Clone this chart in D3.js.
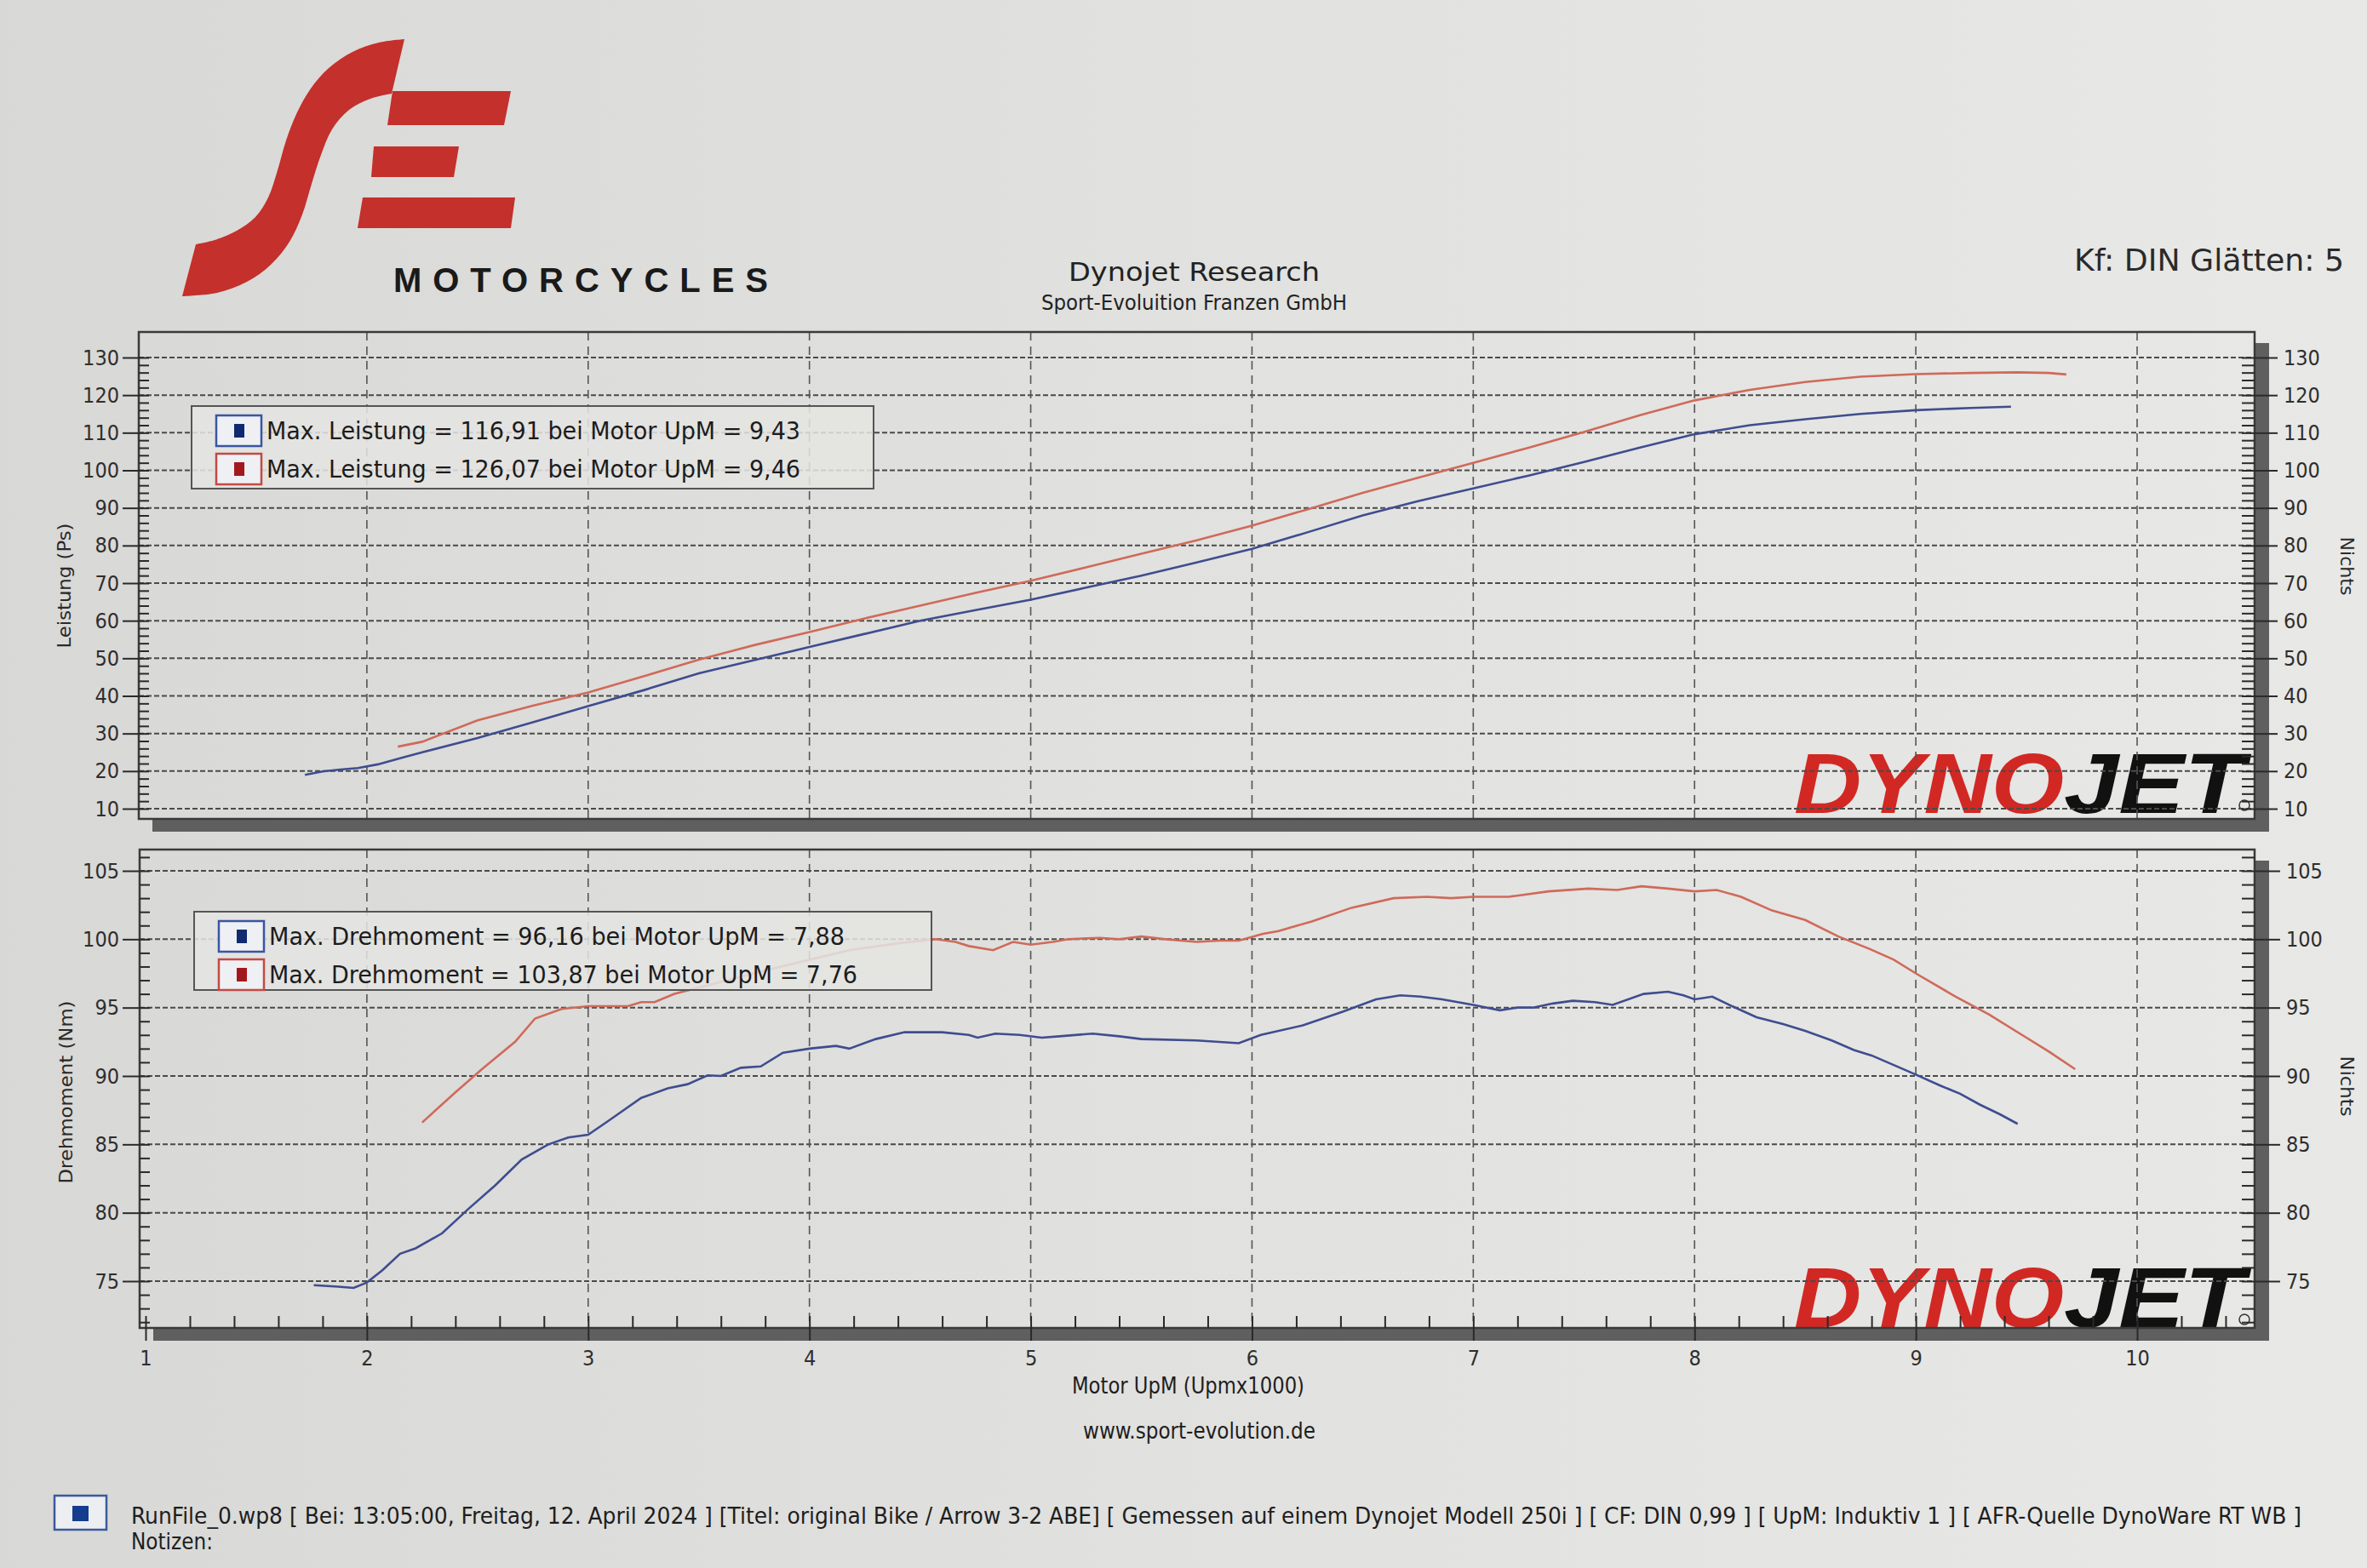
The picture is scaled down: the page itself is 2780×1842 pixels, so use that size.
<!DOCTYPE html>
<html>
<head>
<meta charset="utf-8">
<script src="https://cdn.jsdelivr.net/npm/d3@7"></script>
<style>
  html, body { margin: 0; padding: 0; background: #e0e0de; }
  svg { display: block; }
</style>
</head>
<body>
<svg id="chart" width="2780" height="1842"></svg>
<script>
// ---------------- DATA ----------------
const rpmTicks = [1, 2, 3, 4, 5, 6, 7, 8, 9, 10];
const powerTicks = [10, 20, 30, 40, 50, 60, 70, 80, 90, 100, 110, 120, 130];
const torqueTicks = [75, 80, 85, 90, 95, 100, 105];

// Leistung (Ps) vs Motor UpM (x1000)
const powerBlue = [[1.72,19.0],[1.80,19.9],[1.88,20.4],[1.96,20.8],[2.05,21.8],[2.15,23.4],[2.25,25.0],[2.5,28.8],[2.75,33.0],[3.0,37.3],[3.25,41.5],[3.5,46.0],[3.75,49.5],[4.0,53.0],[4.25,56.5],[4.5,60.0],[4.75,62.8],[5.0,65.6],[5.25,68.8],[5.5,72.0],[5.75,75.5],[6.0,79.1],[6.25,83.5],[6.5,88.0],[6.75,91.8],[7.0,95.2],[7.25,98.6],[7.5,102.2],[7.75,106.0],[8.0,109.6],[8.25,112.0],[8.5,113.6],[8.75,115.0],[9.0,116.0],[9.25,116.6],[9.43,116.91]];
const powerRed = [[2.14,26.5],[2.25,27.8],[2.5,33.5],[2.75,37.4],[3.0,40.9],[3.25,45.2],[3.5,49.6],[3.75,53.5],[4.0,57.0],[4.25,60.6],[4.5,64.0],[4.75,67.4],[5.0,70.6],[5.25,74.2],[5.5,77.8],[5.75,81.4],[6.0,85.3],[6.25,89.6],[6.5,94.0],[6.75,98.0],[7.0,102.0],[7.25,106.0],[7.5,110.2],[7.75,114.6],[8.0,118.6],[8.25,121.4],[8.5,123.5],[8.75,124.9],[9.0,125.6],[9.25,125.9],[9.46,126.07],[9.6,125.9],[9.68,125.5]];

// Drehmoment (Nm) vs Motor UpM (x1000)
const torqueBlue = [[1.76,74.7],[1.87,74.6],[1.94,74.5],[2.0,74.9],[2.07,75.8],[2.15,77.0],[2.22,77.4],[2.34,78.5],[2.46,80.3],[2.58,82.0],[2.7,83.9],[2.82,85.0],[2.91,85.5],[3.0,85.7],[3.09,86.7],[3.24,88.4],[3.36,89.1],[3.45,89.4],[3.54,90.05],[3.6,90.0],[3.69,90.6],[3.78,90.7],[3.88,91.7],[4.0,92.0],[4.12,92.2],[4.18,92.0],[4.3,92.7],[4.43,93.2],[4.6,93.2],[4.72,93.0],[4.76,92.8],[4.84,93.1],[4.95,93.0],[5.05,92.8],[5.13,92.9],[5.28,93.1],[5.4,92.9],[5.5,92.7],[5.75,92.6],[5.94,92.4],[6.04,93.0],[6.23,93.7],[6.41,94.7],[6.56,95.6],[6.67,95.9],[6.76,95.8],[6.86,95.6],[7.0,95.2],[7.12,94.8],[7.2,95.0],[7.27,95.0],[7.36,95.3],[7.45,95.5],[7.55,95.4],[7.63,95.2],[7.77,96.0],[7.88,96.16],[7.95,95.9],[8.0,95.6],[8.08,95.8],[8.17,95.1],[8.28,94.3],[8.4,93.8],[8.5,93.3],[8.62,92.6],[8.72,91.9],[8.8,91.5],[8.9,90.8],[9.0,90.1],[9.11,89.3],[9.2,88.7],[9.29,87.9],[9.38,87.2],[9.46,86.5]];
const torqueRed = [[2.25,86.6],[2.4,88.8],[2.52,90.5],[2.67,92.5],[2.76,94.2],[2.88,94.9],[3.0,95.1],[3.18,95.1],[3.24,95.4],[3.3,95.4],[3.39,96.0],[3.51,96.5],[3.7,97.3],[3.9,98.1],[4.18,99.2],[4.4,99.7],[4.57,100.0],[4.66,99.8],[4.72,99.5],[4.83,99.2],[4.92,99.8],[5.0,99.6],[5.1,99.8],[5.17,100.0],[5.31,100.1],[5.4,100.0],[5.5,100.2],[5.61,100.0],[5.75,99.8],[5.85,99.9],[5.94,99.9],[6.05,100.4],[6.12,100.6],[6.27,101.3],[6.45,102.3],[6.64,103.0],[6.79,103.1],[6.9,103.0],[7.0,103.1],[7.16,103.1],[7.34,103.5],[7.52,103.7],[7.65,103.6],[7.76,103.87],[7.88,103.7],[8.0,103.5],[8.1,103.6],[8.21,103.1],[8.35,102.1],[8.5,101.4],[8.65,100.2],[8.79,99.3],[8.9,98.5],[9.0,97.5],[9.18,95.8],[9.33,94.5],[9.5,92.8],[9.6,91.8],[9.72,90.5]];

const legendPower = ["Max. Leistung = 116,91 bei Motor UpM = 9,43", "Max. Leistung = 126,07 bei Motor UpM = 9,46"];
const legendTorque = ["Max. Drehmoment = 96,16 bei Motor UpM = 7,88", "Max. Drehmoment = 103,87 bei Motor UpM = 7,76"];
const seriesColors = ["#3f4d8f", "#cf6a5a"];
const swatchStroke = ["#3b56a0", "#c24a44"];
const swatchInner = ["#0f2a6e", "#a3191b"];

// ---------------- LAYOUT ----------------
const FONT = "'DejaVu Sans Condensed','DejaVu Sans',sans-serif";
const svg = d3.select("#chart");
const defs = svg.append("defs");
const grad = defs.append("linearGradient").attr("id", "paper").attr("x1", 0).attr("x2", 1).attr("y1", 0).attr("y2", 0);
grad.append("stop").attr("offset", 0).attr("stop-color", "#d8d8d6");
grad.append("stop").attr("offset", 0.5).attr("stop-color", "#e1e1df");
grad.append("stop").attr("offset", 1).attr("stop-color", "#e8e8e6");
svg.append("rect").attr("width", 2780).attr("height", 1842).attr("fill", "url(#paper)");

const x = d3.scaleLinear().domain([1, 10]).range([171, 2510]);
const yP = d3.scaleLinear().domain([10, 130]).range([950, 420]);
const yT = d3.scaleLinear().domain([75, 105]).range([1505, 1023]);

const P = { l: 163, r: 2648, t: 390, b: 962 };
const T = { l: 164, r: 2648, t: 998, b: 1560 };

// ---------------- LOGO ----------------
const logo = svg.append("g").attr("fill", "#c4302b");
const sTop = [[475,46],[445,50],[414,61],[386,80],[365,104],[349,132],[336,165],[326,200],[315,232],[300,255],[278,271],[252,282],[230,287]];
const sBottom = [[214,348],[255,344],[290,331],[318,311],[340,284],[355,252],[366,216],[377,182],[390,152],[410,129],[435,116],[460,110]];
const smooth = d3.line().curve(d3.curveCatmullRom.alpha(0.5));
logo.append("path").attr("d", smooth(sTop) + "L" + smooth(sBottom).slice(1) + "L467,80Z");
logo.append("path").attr("d", "M461,107 L600,107 L592,147 L455,147 Z");
logo.append("path").attr("d", "M439,172 L539,172 L533,208 L436,208 Z");
logo.append("path").attr("d", "M426,232 L605,232 L600,268 L420,268 Z");
svg.append("text").attr("x", 462).attr("y", 343).attr("font-family", "'Liberation Sans',Arial,sans-serif")
  .attr("font-weight", "bold").attr("font-size", 40).attr("fill", "#1a1a1a")
  .attr("textLength", 440).attr("lengthAdjust", "spacing").text("MOTORCYCLES");

// ---------------- HEADER TEXT ----------------
svg.append("text").attr("x", 1255).attr("y", 330).attr("font-family", FONT).attr("font-size", 31)
  .attr("fill", "#222").attr("textLength", 295).attr("lengthAdjust", "spacingAndGlyphs").text("Dynojet Research");
svg.append("text").attr("x", 1223).attr("y", 364).attr("font-family", FONT).attr("font-size", 24)
  .attr("fill", "#222").attr("textLength", 359).attr("lengthAdjust", "spacingAndGlyphs").text("Sport-Evoluition Franzen GmbH");
svg.append("text").attr("x", 2436).attr("y", 318).attr("font-family", FONT).attr("font-size", 35)
  .attr("fill", "#2a2a2a").attr("textLength", 317).attr("lengthAdjust", "spacingAndGlyphs").text("Kf: DIN Glätten: 5");

// ---------------- PANEL DRAWING ----------------
function shadow(F) {
  svg.append("rect").attr("x", F.l + 16).attr("y", F.b).attr("width", F.r - F.l).attr("height", 15).attr("fill", "#5f5f5f");
  svg.append("rect").attr("x", F.r).attr("y", F.t + 13).attr("width", 17).attr("height", F.b - F.t + 2).attr("fill", "#5f5f5f");
}
function dynojet(F, base) {
  const g = svg.append("g").attr("font-family", "'Liberation Sans',Arial,sans-serif").attr("font-weight", "bold")
    .attr("font-style", "italic").attr("font-size", 100);
  g.append("text").attr("x", 2107).attr("y", base).attr("fill", "#d12824")
    .attr("textLength", 317).attr("lengthAdjust", "spacingAndGlyphs").text("DYNO");
  g.append("text").attr("x", 2424).attr("y", base).attr("fill", "#111")
    .attr("textLength", 212).attr("lengthAdjust", "spacingAndGlyphs").text("JET");
  svg.append("circle").attr("cx", F.r - 12).attr("cy", base - 9).attr("r", 6).attr("fill", "none").attr("stroke", "#333").attr("stroke-width", 1.5);
}
function gridH(F, y, vals) {
  svg.append("g").selectAll("line").data(vals).join("line")
    .attr("x1", F.l).attr("x2", F.r).attr("y1", d => y(d)).attr("y2", d => y(d))
    .attr("stroke", "#4a4a4a").attr("stroke-width", 2).attr("stroke-dasharray", "6,3");
}
function gridV(F) {
  svg.append("g").selectAll("line").data(rpmTicks.filter(d => d > 1)).join("line")
    .attr("x1", d => x(d)).attr("x2", d => x(d)).attr("y1", F.t).attr("y2", F.b)
    .attr("stroke", "#555").attr("stroke-width", 1.6).attr("stroke-dasharray", "10,7");
}
function frame(F) {
  svg.append("rect").attr("x", F.l).attr("y", F.t).attr("width", F.r - F.l).attr("height", F.b - F.t)
    .attr("fill", "none").attr("stroke", "#3a3a3a").attr("stroke-width", 2.5);
}
function styleAxis(g, size) {
  g.select(".domain").remove();
  g.selectAll("line").attr("stroke", "#2a2a2a").attr("stroke-width", 2);
  g.selectAll("text").attr("font-family", FONT).attr("font-size", size).attr("fill", "#2e2e2e");
}
function yAxes(F, y, majors, minors, outL, outR) {
  const gl = svg.append("g").attr("transform", `translate(${F.l},0)`)
    .call(d3.axisLeft(y).tickValues(majors).tickSize(outL).tickPadding(4));
  styleAxis(gl, 25);
  const gli = svg.append("g").attr("transform", `translate(${F.l},0)`)
    .call(d3.axisLeft(y).tickValues(minors).tickSize(-12).tickFormat(""));
  styleAxis(gli, 25);
  const gr = svg.append("g").attr("transform", `translate(${F.r},0)`)
    .call(d3.axisRight(y).tickValues(majors).tickSize(outR).tickPadding(7));
  styleAxis(gr, 25);
  const gri = svg.append("g").attr("transform", `translate(${F.r},0)`)
    .call(d3.axisRight(y).tickValues(minors).tickSize(-15).tickFormat(""));
  styleAxis(gri, 25);
}
function legend(box, lines) {
  const g = svg.append("g");
  g.append("rect").attr("x", box.x).attr("y", box.y).attr("width", box.w).attr("height", box.h)
    .attr("fill", "#e4e4e2").attr("fill-opacity", 0.86).attr("stroke", "#555").attr("stroke-width", 2);
  lines.forEach((t, i) => {
    const sy = box.y + 11 + i * box.step;
    g.append("rect").attr("x", box.x + 29).attr("y", sy).attr("width", 53).attr("height", 36)
      .attr("fill", "#eef0f4").attr("stroke", swatchStroke[i]).attr("stroke-width", 2.5);
    g.append("rect").attr("x", box.x + 50).attr("y", sy + 10).attr("width", 12).attr("height", 16)
      .attr("fill", swatchInner[i]);
    g.append("text").attr("x", box.x + 88).attr("y", sy + 28).attr("font-family", FONT).attr("font-size", 29)
      .attr("fill", "#1c1c1c").attr("textLength", box.tl[i]).attr("lengthAdjust", "spacingAndGlyphs").text(t);
  });
}

// ---- Top panel (Leistung)
shadow(P);
dynojet(P, 955);
gridH(P, yP, powerTicks);
gridV(P);
frame(P);
yAxes(P, yP, powerTicks, d3.range(10, 131, 2), 19, 27);

const lineP = d3.line().x(d => x(d[0])).y(d => yP(d[1]));
svg.append("path").datum(powerBlue).attr("d", lineP).attr("fill", "none").attr("stroke", seriesColors[0]).attr("stroke-width", 2.6);
svg.append("path").datum(powerRed).attr("d", lineP).attr("fill", "none").attr("stroke", seriesColors[1]).attr("stroke-width", 2.6);
legend({ x: 225, y: 477, w: 801, h: 97, step: 45, tl: [627, 627] }, legendPower);

// ---- Bottom panel (Drehmoment)
shadow(T);
dynojet(T, 1559);
gridH(T, yT, torqueTicks);
gridV(T);
frame(T);
yAxes(T, yT, torqueTicks, d3.range(72, 107, 1), 20, 30);

// x axis at bottom
const gx = svg.append("g").attr("transform", `translate(0,${T.b})`)
  .call(d3.axisBottom(x).tickValues(rpmTicks).tickSize(15).tickPadding(11));
styleAxis(gx, 25);
const gxi = svg.append("g").attr("transform", `translate(0,${T.b})`)
  .call(d3.axisBottom(x).tickValues(d3.range(1, 10.45, 0.2)).tickSize(-14).tickFormat(""));
styleAxis(gxi, 25);

const lineT = d3.line().x(d => x(d[0])).y(d => yT(d[1]));
svg.append("path").datum(torqueBlue).attr("d", lineT).attr("fill", "none").attr("stroke", seriesColors[0]).attr("stroke-width", 2.6);
svg.append("path").datum(torqueRed).attr("d", lineT).attr("fill", "none").attr("stroke", seriesColors[1]).attr("stroke-width", 2.6);
legend({ x: 228, y: 1071, w: 866, h: 92, step: 45, tl: [676, 691] }, legendTorque);

// ---------------- AXIS TITLES ----------------
function vtext(cx, cy, rot, t, len) {
  svg.append("text").attr("transform", `translate(${cx},${cy}) rotate(${rot})`).attr("text-anchor", "middle")
    .attr("dy", "0.35em").attr("font-family", "'DejaVu Sans',sans-serif").attr("font-size", 21).attr("fill", "#2a2a2a")
    .attr("textLength", len).attr("lengthAdjust", "spacingAndGlyphs").text(t);
}
vtext(76, 688, -90, "Leistung (Ps)", 147);
vtext(78, 1283, -90, "Drehmoment (Nm)", 215);
vtext(2756, 665, 90, "Nichts", 69);
vtext(2756, 1276, 90, "Nichts", 71);

svg.append("text").attr("x", 1259).attr("y", 1637).attr("font-family", FONT).attr("font-size", 26).attr("fill", "#1e1e1e")
  .attr("textLength", 273).attr("lengthAdjust", "spacingAndGlyphs").text("Motor UpM (Upmx1000)");
svg.append("text").attr("x", 1272).attr("y", 1690).attr("font-family", FONT).attr("font-size", 26).attr("fill", "#1e1e1e")
  .attr("textLength", 273).attr("lengthAdjust", "spacingAndGlyphs").text("www.sport-evolution.de");

// ---------------- FOOTER ----------------
svg.append("rect").attr("x", 64).attr("y", 1757).attr("width", 61).attr("height", 40)
  .attr("fill", "#eceef2").attr("stroke", "#3b5a9c").attr("stroke-width", 2.5);
svg.append("rect").attr("x", 85).attr("y", 1769).attr("width", 19).attr("height", 18).attr("fill", "#143c8f");
svg.append("text").attr("x", 154).attr("y", 1790).attr("font-family", FONT).attr("font-size", 27).attr("fill", "#1e1e1e")
  .attr("textLength", 2549).attr("lengthAdjust", "spacingAndGlyphs")
  .text("RunFile_0.wp8 [ Bei: 13:05:00, Freitag, 12. April 2024 ] [Titel: original Bike / Arrow 3-2 ABE]  [ Gemessen auf einem Dynojet Modell 250i ] [ CF: DIN 0,99 ] [ UpM: Induktiv 1 ] [ AFR-Quelle  DynoWare RT WB ]");
svg.append("text").attr("x", 154).attr("y", 1820).attr("font-family", FONT).attr("font-size", 27).attr("fill", "#1e1e1e")
  .attr("textLength", 96).attr("lengthAdjust", "spacingAndGlyphs").text("Notizen:");
</script>
</body>
</html>
